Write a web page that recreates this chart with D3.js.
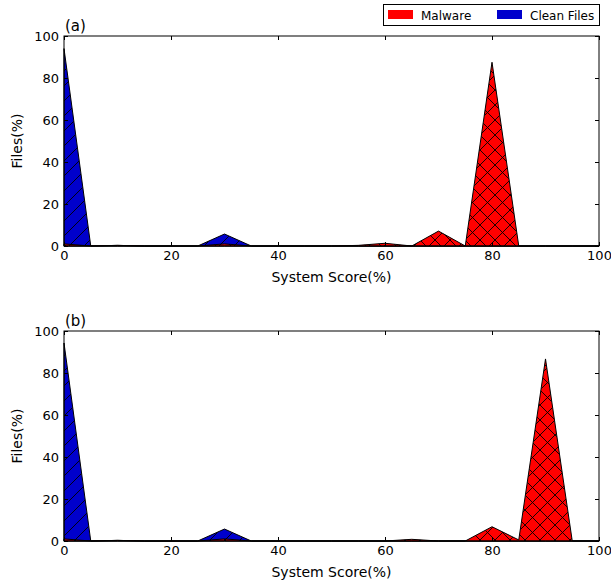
<!DOCTYPE html>
<html>
<head>
<meta charset="utf-8">
<script src="https://cdn.jsdelivr.net/npm/d3@7"></script>
<style>
  body { margin: 0; background: #fff; }
  svg text { font-family: "DejaVu Sans", sans-serif; }
</style>
</head>
<body>
<svg id="chart" width="611" height="582"></svg>
<script>
// score bins (x values)
var scores = [0, 5, 10, 15, 20, 25, 30, 35, 40, 45, 50, 55, 60, 65, 70, 75, 80, 85, 90, 95, 100];
// panel (a)
var malwareA = [1, 0, 0.3, 0, 0, 0, 1, 0, 0, 0, 0, 0.3, 1.3, 0, 7.1, 0, 87.5, 0, 0, 0, 0];
var cleanA   = [94, 0, 0.3, 0, 0, 0, 5.7, 0, 0, 0, 0, 0, 0, 0, 0, 0, 0, 0, 0, 0, 0];
// panel (b)
var malwareB = [1, 0, 0.3, 0, 0, 0, 1, 0, 0, 0, 0, 0, 0, 0.8, 0, 0, 6.8, 0.5, 86.7, 0, 0];
var cleanB   = [94.3, 0, 0.3, 0, 0, 0, 5.7, 0, 0, 0, 0, 0, 0, 0, 0, 0, 0, 0, 0, 0, 0];
var xTicks = [0, 20, 40, 60, 80, 100];
var yTicks = [0, 20, 40, 60, 80, 100];
var panelNames = ["(a)", "(b)"];
var legendNames = ["Malware", "Clean Files"];

var colors = { malware: "#ff0000", clean: "#0000cc" };

var svg = d3.select("#chart");

// hatch patterns
var defs = svg.append("defs");
var hs = 15;
var px = defs.append("pattern").attr("id", "hatchX")
  .attr("patternUnits", "userSpaceOnUse").attr("width", hs).attr("height", hs);
px.append("rect").attr("width", hs).attr("height", hs).attr("fill", colors.malware);
px.append("path")
  .attr("d", "M0,0L" + hs + "," + hs + "M" + hs + ",0L0," + hs)
  .attr("stroke", "#000").attr("stroke-width", 0.9);

var ps = defs.append("pattern").attr("id", "hatchS")
  .attr("patternUnits", "userSpaceOnUse").attr("width", hs).attr("height", hs);
ps.append("rect").attr("width", hs).attr("height", hs).attr("fill", colors.clean);
ps.append("path")
  .attr("d", "M0," + hs + "L" + hs + ",0M-2,2L2,-2M" + (hs - 2) + "," + (hs + 2) + "L" + (hs + 2) + "," + (hs - 2))
  .attr("stroke", "#000").attr("stroke-width", 0.9);

var left = 64, right = 599;
var panels = [
  { top: 36, bottom: 246, malware: malwareA, clean: cleanA },
  { top: 331, bottom: 541, malware: malwareB, clean: cleanB }
];

var x = d3.scaleLinear().domain([0, 100]).range([left, right]);

panels.forEach(function (p, i) {
  var y = d3.scaleLinear().domain([0, 100]).range([p.bottom, p.top]);
  var g = svg.append("g");

  var area = d3.area()
    .x(function (d, j) { return x(scores[j]); })
    .y0(y(0))
    .y1(function (d) { return y(d); });

  g.append("path").attr("d", area(p.clean))
    .attr("fill", "url(#hatchS)").attr("stroke", "#000").attr("stroke-width", 1);
  g.append("path").attr("d", area(p.malware))
    .attr("fill", "url(#hatchX)").attr("stroke", "#000").attr("stroke-width", 1);

  // axes with inward ticks
  g.append("g").attr("transform", "translate(0," + p.bottom + ")")
    .call(d3.axisBottom(x).tickValues(xTicks).tickSizeInner(-4).tickSizeOuter(0).tickPadding(5));
  g.append("g").attr("transform", "translate(" + left + ",0)")
    .call(d3.axisLeft(y).tickValues(yTicks).tickSizeInner(-4).tickSizeOuter(0).tickPadding(5));
  g.append("g").attr("transform", "translate(0," + p.top + ")")
    .call(d3.axisTop(x).tickValues(xTicks).tickSizeInner(-4).tickSizeOuter(0).tickFormat(""));
  g.append("g").attr("transform", "translate(" + right + ",0)")
    .call(d3.axisRight(y).tickValues(yTicks).tickSizeInner(-4).tickSizeOuter(0).tickFormat(""));
  g.selectAll(".domain").remove();
  g.selectAll(".tick line").attr("stroke", "#000");
  g.selectAll(".tick text").attr("font-size", 13).attr("fill", "#000")
    .attr("font-family", "DejaVu Sans");

  g.append("rect").attr("x", left).attr("y", p.top)
    .attr("width", right - left).attr("height", p.bottom - p.top)
    .attr("fill", "none").attr("stroke", "#000").attr("stroke-width", 1);

  g.append("text").attr("x", left + 1).attr("y", p.top - 5)
    .attr("font-size", 15).text(panelNames[i]);

  g.append("text").attr("x", (left + right) / 2).attr("y", p.bottom + 36)
    .attr("text-anchor", "middle").attr("font-size", 14).text("System Score(%)");

  g.append("text")
    .attr("transform", "translate(22," + ((p.top + p.bottom) / 2) + ") rotate(-90)")
    .attr("text-anchor", "middle").attr("font-size", 14).text("Files(%)");
});

// legend
var lg = svg.append("g");
lg.append("rect").attr("x", 383.5).attr("y", 4.5).attr("width", 216).attr("height", 21)
  .attr("fill", "#fff").attr("stroke", "#000").attr("stroke-width", 1);
[colors.malware, colors.clean].forEach(function (c, i) {
  var ox = i === 0 ? 388 : 497;
  lg.append("rect").attr("x", ox).attr("y", 10).attr("width", 25).attr("height", 9).attr("fill", c);
  lg.append("text").attr("x", ox + 33).attr("y", 19.5).attr("font-size", 12).text(legendNames[i]);
});
</script>
</body>
</html>
